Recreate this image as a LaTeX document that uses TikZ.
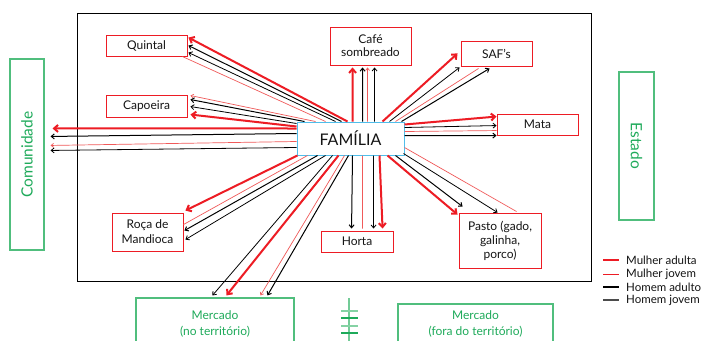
\documentclass[tikz,border=0pt]{standalone}
\usepackage{fontspec}
\setmainfont{Lato}
\usetikzlibrary{arrows.meta,calc}
\definecolor{mred}{RGB}{237,28,36}
\definecolor{lred}{RGB}{240,90,90}
\definecolor{mgreen}{RGB}{30,170,90}
\definecolor{bgreen}{RGB}{80,190,125}
\definecolor{famblue}{RGB}{80,190,235}
\definecolor{txt}{RGB}{20,20,20}
\begin{document}
\begin{tikzpicture}[x=1pt,y=-1pt,
 box/.style={draw=mred, line width=0.9pt, inner sep=0pt, text=txt, font=\fontsize{12}{14}\selectfont, align=center},
 gbox/.style={draw=bgreen, line width=1.1pt, inner sep=0pt, text=mgreen, align=center, font=\fontsize{12}{16}\selectfont},
 gtext/.style={text=mgreen, font=\fontsize{15.5}{17}\selectfont, inner sep=0pt},
 ma/.style={draw=mred, line width=2pt, -{Straight Barb[length=4pt,width=7pt]}},
 mj/.style={draw=lred, line width=0.7pt, -{Straight Barb[length=2.5pt,width=4pt]}},
 mjn/.style={draw=lred, line width=0.7pt},
 ha/.style={draw=black, line width=1pt, -{Straight Barb[length=3pt,width=5pt]}},
 hj/.style={draw=black, line width=0.8pt, -{Straight Barb[length=3pt,width=5pt]}},
 leg/.style={text=txt, font=\fontsize{11.5}{13}\selectfont, inner sep=0pt, anchor=west},
]
\clip (0,0) rectangle (701,340);
\fill[white] (0,0) rectangle (701,340);
\node[draw=black, line width=1pt, minimum width=514, minimum height=268, inner sep=0pt] (frame) at (334,147) {};

\node[box, minimum width=81, minimum height=21] (quintal) at (146.5,45.5) {Quintal};
\node[box, minimum width=81, minimum height=22] (capoeira) at (146.5,106) {Capoeira};
\node[box, minimum width=81, minimum height=38, font=\fontsize{12}{13}\selectfont] (cafe) at (370.5,46) {Café\\sombreado};
\node[box, minimum width=71, minimum height=25] (saf) at (496.5,53.5) {SAF’s};
\node[box, minimum width=81, minimum height=21] (mata) at (537.5,124.5) {Mata};
\node[box, minimum width=71, minimum height=38, font=\fontsize{12}{15}\selectfont] (roca) at (147.5,232) {Roça de\\Mandioca};
\node[box, minimum width=72, minimum height=21] (horta) at (357,241.5) {Horta};
\node[box, minimum width=82, minimum height=55] (pasto) at (500,240.5) {Pasto (gado,\\galinha,\\porco)};
\node[draw=famblue, line width=1pt, fill=white, minimum width=107, minimum height=33, inner sep=0pt, text=txt, font=\fontsize{16}{18}\selectfont] (fam) at (350.5,138.5) {FAMÍLIA};

\node[draw=bgreen, line width=1.1pt, minimum width=34, minimum height=191, inner sep=0pt] (com) at (27,154.5) {};
\node[gtext, rotate=90] (comtext) at (com.center) {Comunidade};
\node[draw=bgreen, line width=1.1pt, minimum width=35, minimum height=148, inner sep=0pt] (est) at (636.5,146) {};
\node[gtext, rotate=-90] (esttext) at (est.center) {Estado};

\node[gbox, minimum width=158, minimum height=52] (merc1) at (215,324) {Mercado\\(no território)};
\node[gbox, minimum width=155, minimum height=40] (merc2) at (475.5,324) {Mercado\\(fora do território)};

% symbol between markets
\coordinate (sy) at (349,298);
\draw[bgreen!80, line width=1.5pt] (sy) -- ++(0,45);
\draw[bgreen!70, line width=1.3pt] ($(sy)+(-8,13)$) -- ++(17,0);
\draw[mgreen, line width=1.1pt] ($(sy)+(-8,20)$) -- ++(17,0);
\draw[bgreen!70, line width=1.3pt] ($(sy)+(-8,28)$) -- ++(17,0);
\draw[mgreen, line width=1.1pt] ($(sy)+(-8,35)$) -- ++(17,0);

% Quintal
\draw[ma] ($(fam.north west)+(51,0)$) -- ($(quintal.north east)+(1,3)$);
\draw[ha] ($(fam.north west)+(45,0)$) -- ($(quintal.north east)+(1,11)$);
\draw[hj] ($(fam.north west)+(39,0)$) -- ($(quintal.north east)+(1,18)$);
\draw[mjn] ($(fam.north west)+(29,0)$) -- ($(quintal.north east)+(-5,22)$);
% Capoeira
\draw[mj] ($(fam.north west)+(19,0)$) -- ($(capoeira.north east)+(3,1)$);
\draw[ha] ($(fam.north west)+(8,0)$) -- ($(capoeira.north east)+(3,5)$);
\draw[hj] ($(fam.north west)+(0,2)$) -- ($(capoeira.north east)+(3,12)$);
\draw[ma] ($(fam.north west)+(0,5)$) -- ($(capoeira.north east)+(3,20)$);
% Comunidade
\draw[ma] ($(fam.north west)+(0,7)$) -- ($(com.north east)+(8,70)$);
\draw[ha] ($(fam.north west)+(0,12)$) -- ($(com.north east)+(6,78)$);
\draw[mj] ($(fam.north west)+(0,20)$) -- ($(com.north east)+(6,87)$);
\draw[hj] ($(fam.north west)+(0,26)$) -- ($(com.north east)+(6,92)$);
% Roca
\draw[ma] ($(fam.south west)+(1,0)$) -- ($(roca.north east)+(2,-2)$);
\draw[mjn] ($(fam.south west)+(11,0)$) -- ($(roca.north east)+(0,12)$);
\draw[ha] ($(fam.south west)+(21,0)$) -- ($(roca.north east)+(1,18)$);
\draw[hj] ($(fam.south west)+(29,0)$) -- ($(roca.north east)+(2,27)$);
% Mercado no territorio
\draw[hj] ($(fam.south west)+(36,0)$) -- ($(merc1.north west)+(77,-2)$);
\draw[ma] ($(fam.south west)+(42,0)$) -- ($(merc1.north west)+(91,-2)$);
\draw[mj] ($(fam.south west)+(48,0)$) -- ($(merc1.north west)+(125,-2)$);
\draw[ha] ($(fam.south west)+(52,0)$) -- ($(merc1.north west)+(132,-2)$);
% Horta
\draw[ha] ($(fam.south west)+(56,0)$) -- ($(horta.north west)+(31,-2)$);
\draw[mjn] ($(fam.south west)+(66,0)$) -- ($(horta.north west)+(42,-2)$);
\draw[hj] ($(fam.south west)+(77,0)$) -- ($(horta.north west)+(53,-2)$);
\draw[ma] ($(fam.south west)+(83,0)$) -- ($(horta.north west)+(62,-2)$);
% Cafe
\draw[ma] ($(fam.north west)+(56,0)$) -- ($(cafe.south west)+(23,2)$);
\draw[ha] ($(fam.north west)+(66,0)$) -- ($(cafe.south west)+(33,2)$);
\draw[mj] ($(fam.north west)+(71,0)$) -- ($(cafe.south west)+(38,2)$);
\draw[hj] ($(fam.north west)+(78,0)$) -- ($(cafe.south west)+(45,2)$);
% SAF
\draw[ma] ($(fam.north west)+(86,0)$) -- ($(saf.south west)+(-3,-13)$);
\draw[hj] ($(fam.north west)+(93,0)$) -- ($(saf.south west)+(-1,1)$);
\draw[mjn] ($(fam.north west)+(99,0)$) -- ($(saf.south west)+(18,2)$);
\draw[ha] ($(fam.north west)+(105,0)$) -- ($(saf.south west)+(29,2)$);
% Mata
\draw[ma] ($(fam.north east)+(0,3)$) -- ($(mata.north west)+(0,3)$);
\draw[hj] ($(fam.north east)+(0,6)$) -- ($(mata.north west)+(0,12)$);
\draw[mjn] ($(fam.north east)+(0,10)$) -- ($(mata.north west)+(0,17)$);
\draw[ha] ($(fam.north east)+(0,14)$) -- ($(mata.north west)+(0,22)$);
% Pasto
\draw[ma] ($(fam.south west)+(91,0)$) -- ($(pasto.north west)+(-1,2)$);
\draw[ha] ($(fam.south west)+(99,0)$) -- ($(pasto.north west)+(4,-6)$);
\draw[hj] ($(fam.south east)+(-1,-2)$) -- ($(pasto.north west)+(39,0)$);
\draw[mjn] ($(fam.south east)+(0,-8)$) -- ($(pasto.north west)+(58,-1)$);

% Legend
\node[leg] (l1) at (626,260) {Mulher adulta};
\node[leg] (l2) at (626,274) {Mulher jovem};
\node[leg] (l3) at (626,287) {Homem adulto};
\node[leg] (l4) at (626,300) {Homem jovem};
\draw[mred, line width=2.5pt] ($(l1.west)+(-23,0)$) -- ++(16,0);
\draw[mred, line width=1pt] ($(l2.west)+(-23,0)$) -- ++(16,0);
\draw[black, line width=2.5pt] ($(l3.west)+(-23,0)$) -- ++(16,0);
\draw[black!70, line width=1.2pt] ($(l4.west)+(-23,0)$) -- ++(16,0);
\end{tikzpicture}
\end{document}
